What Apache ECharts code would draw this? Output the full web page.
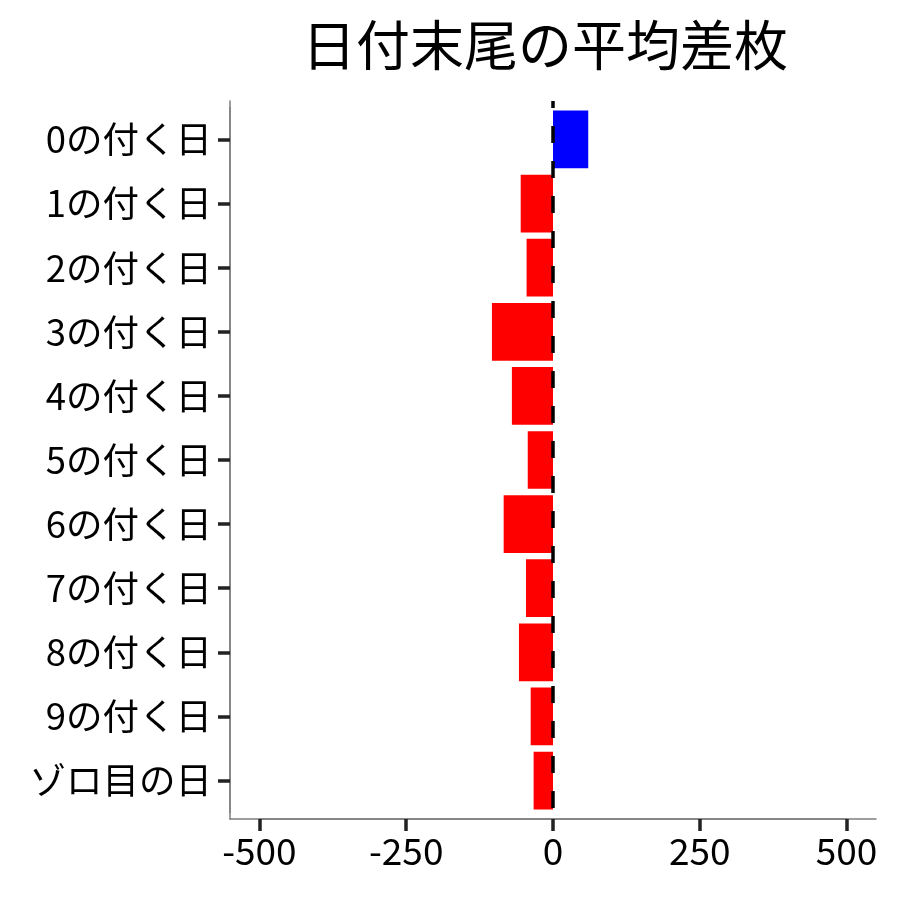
<!DOCTYPE html>
<html>
<head>
<meta charset="utf-8">
<script src="https://cdn.jsdelivr.net/npm/echarts@6/dist/echarts.min.js"></script>
<style>html,body{margin:0;padding:0;background:#fff;}#c{width:900px;height:900px;}</style>
</head>
<body>
<div id="c"></div>
<script>
const titleText = '日付末尾の平均差枚';
const categories = ['0の付く日','1の付く日','2の付く日','3の付く日','4の付く日','5の付く日','6の付く日','7の付く日','8の付く日','9の付く日','ゾロ目の日'];
const avgDiff = [60, -55, -45, -104, -70, -43, -84, -46, -58, -38, -33];
const xTickMin = -500, xTickMax = 500, xTickStep = 250;
const refLine = [[0, 1], [0, 0]];

const FONT = '"Noto Sans CJK JP", "Noto Sans", sans-serif';
const chart = echarts.init(document.getElementById('c'), null, {renderer: 'canvas'});
chart.setOption({
  animation: false,
  backgroundColor: '#ffffff',
  title: {
    text: titleText,
    left: 297, top: 13,
    textStyle: {fontFamily: FONT, fontSize: 54, fontWeight: 'normal', color: '#000'}
  },
  grid: [
    {left: 230, right: 24, top: 107.4, bottom: 87.4},
    {left: 259.4, right: 53.4, top: 101, bottom: 81},
    {left: 230, right: 24, top: 101, bottom: 81}
  ],
  xAxis: [
    {gridIndex: 0, type: 'value', min: -550, max: 550, show: false},
    {gridIndex: 1, type: 'value', min: xTickMin, max: xTickMax, interval: xTickStep,
     axisLine: {show: true, onZero: false, lineStyle: {color: '#7f7f7f', width: 1.5}},
     axisTick: {show: true, inside: false, length: 12, lineStyle: {color: '#222222', width: 3.5}},
     axisLabel: {fontFamily: FONT, fontSize: 37, color: '#000', margin: 13},
     splitLine: {show: false}},
    {gridIndex: 2, type: 'value', min: -550, max: 550,
     axisLine: {show: true, onZero: false, lineStyle: {color: '#7f7f7f', width: 1.5}},
     axisTick: {show: false}, axisLabel: {show: false}, splitLine: {show: false}}
  ],
  yAxis: [
    {gridIndex: 0, type: 'category', data: categories, inverse: true,
     axisLine: {show: true, onZero: false, lineStyle: {color: '#7f7f7f', width: 1.5}},
     axisTick: {show: true, inside: false, alignWithLabel: true, length: 12, lineStyle: {color: '#222222', width: 3.5}},
     axisLabel: {fontFamily: FONT, fontSize: 36.5, color: '#000', margin: 18},
     splitLine: {show: false}},
    {gridIndex: 1, type: 'value', min: 0, max: 1, show: false},
    {gridIndex: 2, type: 'value', min: 0, max: 1,
     axisLine: {show: true, onZero: false, lineStyle: {color: '#7f7f7f', width: 1.5}},
     axisTick: {show: false}, axisLabel: {show: false}, splitLine: {show: false}}
  ],
  series: [
    {type: 'bar', xAxisIndex: 0, yAxisIndex: 0, barCategoryGap: '10%',
     data: avgDiff.map(v => ({value: v, itemStyle: {color: v >= 0 ? '#0000ff' : '#ff0000'}})),
     z: 2},
    {type: 'line', xAxisIndex: 2, yAxisIndex: 2, data: refLine, symbol: 'none',
     lineStyle: {color: '#000', width: 3.5, type: [17, 18], dashOffset: 10},
     z: 5, silent: true}
  ]
});
</script>
</body>
</html>
